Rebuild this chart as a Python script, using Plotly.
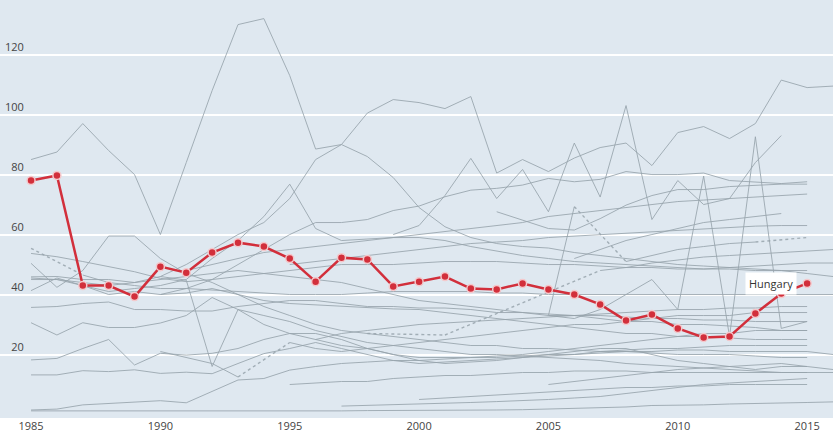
import plotly.graph_objects as go

N = None
years = list(range(1985, 2017))

hungary = [78, 79.7, 43, 43, 39.3, 49.3, 47.3, 54, 57.3, 56, 52, 44.3, 52.3, 51.7, 42.7, 44.3,
           46, 42, 41.7, 43.7, 41.7, 40, 36.7, 31.3, 33.3, 28.7, 25.7, 26, 33.7, 40.3, 43.7, N]

g01 = [85, 87.5, 97, 88, 80, 60, 84, 108, 130, 132, 113, 88.5, 90, 86, 79, 69,
       62.6, 59, 57, 56, 55.5, 54, 53, 52, 51, 50, 49.5, 49, 48.5, 48, 47, 46]
g02 = [45, 45, 44, 43, 44, 46, 50, 55, 60, 64, 72, 85, 90, 100.5, 105, 104,
       102, 106, 80.5, 85, 81, 85.5, 89, 90.5, 83, 94, 96, 92, 97, 111.5, 109, 109.5]
g03 = [N, N, N, N, N, N, N, N, N, N, N, N, N, N, 60, 63,
       73, 85.4, 72, 81.7, 67.6, 90.5, 72.5, 103, 65, 78, 70, 72, 84, 93, N, N]
g04 = [N, N, N, N, N, N, N, N, N, N, N, N, N, N, N, N,
       N, N, N, N, 33, 32, 35, 40, 45, 35, 79.5, 26, 92.6, 28.7, 31, N]
g05 = [N, N, N, N, N, 40, 42, 45, 50, 55, 60, 64, 64, 65, 68, 69.5,
       72.6, 74.8, 75.4, 76.5, 78.7, 77.6, 78.4, 81, 80, 80, 80.5, 78, 77.5, 77, 77.6, N]
g06 = [N, N, N, N, N, N, N, N, N, N, N, N, N, N, N, N,
       N, N, 67.6, 64.8, 62, 61.5, 65.3, 69.8, 73, 75, 75, 76, 76.5, 76.8, 76.8, N]
g07 = [N, N, N, N, N, N, 48, 50, 52, 54, 55, 56, 57, 58, 59, 60,
       61, 62, 63, 64, 66, 67, 68, 69, 70, 71, 71.5, 72, 72.5, 73, 73.5, N]
g08 = [N, N, N, N, N, N, N, N, N, N, N, N, N, N, N, N,
       N, N, N, N, N, 52, 55, 58, 60, 62, 64, 65, 66, 67, N, N]
g09 = [N, N, N, N, N, N, N, N, N, N, 50, 51, 52, 53, 54, 55,
       56, 57, 57.5, 58, 59, 59.5, 60, 60.5, 61, 61.5, 62, 62.5, 62.8, 63, 63, N]
g10 = [N, N, N, N, N, N, N, N, N, N, N, N, N, N, N, N,
       N, N, N, N, 33, 69.3, N, 51, 53, 55, 56, 57, 57.5, N, 59, N]
g11 = [1.2, 1.2, 1.1, 1.1, 1.0, 1.0, 1.0, 1.0, 1.0, 1.0, 1.2, 1.2, 1.2, 1.3, 1.3, 1.3,
       1.4, 1.5, 1.5, 1.6, 1.8, 2, 2.2, 2.5, 3, 3, 3.2, 3.5, 3.6, 3.8, 4, 4.2]
g12 = [1.5, 1.8, 3.2, 3.6, 4, 4.6, 3.9, 7.6, 11.5, 12, 14.8, 16, 17, 17.5, 18, 18,
       18.5, 19, 19, 19.5, 20, 20, 20.5, 21, 21, 21.5, 21.5, 21, 21, 21, 21, 20]
g13 = [13.2, 13.2, 14.6, 14.3, 14.9, 13.7, 14.1, 13.6, 17, 20.3, 22, 24, 22, 20, 18, 17,
       17.5, 18, 18.5, 19, 19.5, 20, 21, 21.5, 22, 22, 22.5, 23, 23, 23, 23, N]
g14 = [18.2, 18.7, 22, 25, 16.5, 20.4, 19.8, 20.4, 22, 25, 27, 27, 25, 22, 20, 18,
       17, 17.5, 18, 19, 20, 21, 22, 22, 20, 18, 17, 16, 15, 16, 16, 15]
g15 = [30.6, 26.5, 30.6, 29, 29, 30.5, 33, 39, 35, 30, 27, 25, 23, 22, 20, 19,
       19, 19, 19.5, 20, 21, 22, 23, 24, 25, 26, 27, 27, 28, 28, 28, N]
g16 = [35.7, 36, 37, 37.5, 35, 35, 34.5, 34.5, 36, 37, 38, 38, 37, 36, 36, 35.5,
       35.5, 35, 34, 34, 33.5, 33, 33, 32.5, 32, 32, 31.5, 31.5, 31, 31, 31, N]
g17 = [41.3, 45.5, 43, 40, 41, 40, 40.5, 42, 40, 38, 37, 36.5, 36, 35.5, 35.2, 35,
       34, 33, 32, 31, 30, 29, 28, 27, 27, 26, 26, 25.5, 25, 25, 25, N]
g18 = [45.5, 45, 43, 41, 42, 43, 45, 52, 58, 66, 76.8, 62, 58, 58.5, 59, 59,
       58, 56, 54.5, 53, 52, 51, 50.5, 50, 49.5, 49, 48.5, 48.5, 48, 48, 48, N]
g19 = [45.9, 46, 45, 45, 44, 45, 46, 47, 48, 47, 46, 45, 44, 42, 40, 38,
       37, 36, 35, 34, 33, 33, 32, 31, 31, 30, 30, 29.5, 29, 28, 28, N]
g20 = [50.4, 42.4, 48, 59.5, 59.5, 52, 47, 44, 40, 36, 33, 30, 28, 27, 26, 25,
       24, 23, 23, 22, 22, 21.5, 21, 21, 20.5, 20, 20, 20, 19.5, 19, 19, N]
g21 = [53.7, 52.6, 51, 49.3, 47.6, 45.4, 44.3, 45, 46, 47, 48, 49, 50, 50, 50, 50.5,
       51, 51, 51, 50.5, 50, 50, 49.5, 49, 49, 48.5, 48.5, 49, 49.5, 50, 50.5, 50.5]
g22 = [55.4, N, 46.5, 44, 43, 42, 42, 41.5, 41, 40.5, 40, 40, 40, 40.5, 41, 41,
       41, 41, 40.5, 40.5, 40, 40, 40, 40, 40, 40, 40, 40, 40, 40, 40, 40]
g23 = [N, N, N, N, N, N, N, N, N, N, N, N, N, 27, N, N,
       26.5, N, N, N, N, N, 48, 49, 50.5, 51.5, 52.5, 53, 53.5, 54, 54.5, 55]
g24 = [N, N, N, N, N, N, N, N, N, N, N, N, 2.8, 3, 3.2, 3.5,
       3.8, 4, 4.3, 4.6, 5, 5.5, 6, 7, 8, 9, 10, 10.5, 11, 11.5, 12, N]
g25 = [N, N, N, N, N, N, N, N, N, N, N, N, N, N, N, N,
       N, N, N, N, 10, 11, 12, 13, 14, 15, 15.5, 16, 16.5, 17, 16, N]
g26 = [N, N, N, N, N, 21, 19, 17, 12.5, N, 24, 22, 21, 22, 23, 24,
       25, 26, 27, 28, 29, 30, 30, 31, 32, 33, 33, 33, 34, 34, 34, N]
g27 = [N, N, N, N, N, 46, 44.8, 16, 35, 33, 31, 28, 26, 24, 23, 22,
       21, 20, 20, 19.5, 19, 18.5, 18, 17, 16.5, 16, 15.5, 15, 14.5, 14, 14, N]
g28 = [N, N, N, N, N, N, N, N, N, N, 10, 10.5, 11, 11, 12, 12.5,
       13, 13, 13.5, 14, 14, 14.5, 14.5, 14.5, 14, 14, 14, 14, 14, 14, 14, 14]
g29 = [N, N, N, N, N, N, N, N, N, N, N, 25, 27, 28, 29, 30,
       30.5, 31, 31.5, 32, 32.5, 33, 33.5, 34, 34.5, 35, 35, 35.5, 35.5, 36, 36, N]
g30 = [N, N, N, N, N, N, N, N, N, N, N, N, N, N, N, 5,
       5.5, 6, 6.5, 7, 7.5, 8, 8.5, 9, 9, 9.5, 9.5, 10, 10, 10, 10, N]

greys = [g01, g02, g03, g04, g05, g06, g07, g08, g09, g10, g11, g12, g13, g14, g15,
         g16, g17, g18, g19, g20, g21, g22, g23, g24, g25, g26, g27, g28, g29, g30]


def gap_bridges(values):
    """One (x, y) pair of endpoints for every interior run of missing years."""
    idx = [i for i, v in enumerate(values) if v is not None]
    pairs = []
    for a, b in zip(idx, idx[1:]):
        if b - a > 1:
            pairs.append(([years[a], years[b]], [values[a], values[b]]))
    return pairs


GREY = "rgba(150,163,172,0.85)"
fig = go.Figure()
for s in greys:
    for bx, by in gap_bridges(s):
        fig.add_trace(go.Scatter(x=bx, y=by, mode="lines",
                                 line=dict(color=GREY, width=1.4, dash="dot"),
                                 hoverinfo="skip", showlegend=False))
    fig.add_trace(go.Scatter(x=years, y=s, mode="lines", line=dict(color=GREY, width=1),
                             hoverinfo="skip", showlegend=False, connectgaps=False))

fig.add_trace(go.Scatter(x=years, y=hungary, mode="lines+markers", name="Hungary",
                         line=dict(color="#d22f3b", width=2.5),
                         marker=dict(size=8, color="#d22f3b", line=dict(color="#f4c9cc", width=1.5)),
                         showlegend=False))

fig.add_annotation(x=2014, y=40.3, text="Hungary", showarrow=False, xshift=-10, yshift=10,
                   bgcolor="white", borderpad=3, font=dict(family="Open Sans", size=11, color="#333"))

fig.update_layout(
    width=833, height=437,
    margin=dict(l=0, r=0, t=0, b=19),
    paper_bgcolor="white", plot_bgcolor="#dfe8f0",
    font=dict(family="Open Sans", size=11, color="#555"),
    showlegend=False,
    xaxis=dict(range=[1983.8, 2016.0], tickvals=[1985, 1990, 1995, 2000, 2005, 2010, 2015],
               showgrid=False, zeroline=False, showline=False, ticks="", tickfont=dict(size=11, color="#444")),
    yaxis=dict(range=[-1.17, 138.2], tickvals=[20, 40, 60, 80, 100, 120], showgrid=True,
               gridcolor="white", gridwidth=2, zeroline=False, showline=False,
               anchor="free", position=0.031, ticklabelposition="outside",
               ticklabelshift=-7, ticklabelstandoff=2, tickfont=dict(size=11, color="#444")),
)
fig.write_html("out.html", config={"displayModeBar": False},
               post_script="document.body.style.margin='0';document.body.style.overflow='hidden';")
